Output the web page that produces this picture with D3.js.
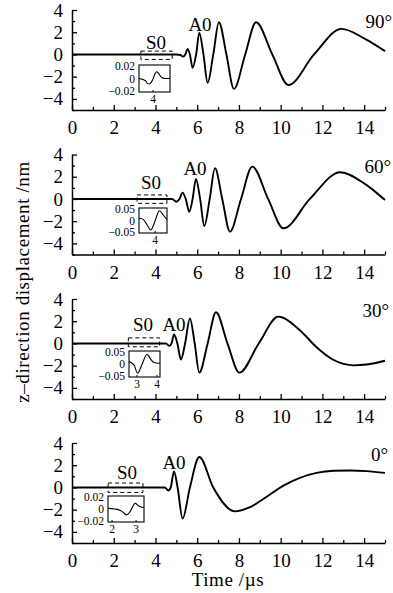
<!DOCTYPE html>
<html>
<head>
<meta charset="utf-8">
<title>z-direction displacement</title>
<script src="https://d3js.org/d3.v7.min.js"></script>
<style>
  body { margin: 0; background: #fff; }
  svg { display: block; }
  svg text { font-family: "Liberation Serif", "DejaVu Serif", "Times New Roman", Times, serif; fill: #000; }
  .axis path, .axis line { stroke: #000; }
</style>
</head>
<body>
<svg id="chart" width="393" height="593"></svg>
<script>
// ---- data ----
const xMajorTicks = [0, 2, 4, 6, 8, 10, 12, 14];
const xMinorTicks = [1, 3, 5, 7, 9, 11, 13, 15];
const yMajorTicks = [-4, -2, 0, 2, 4];
const yMinorTicks = [-5, -3, -1, 1, 3];
const angles = ["90°", "60°", "30°", "0°"];

// main traces, time in µs, displacement in nm
const t90 = [0, 5.0, 5.2, 5.32, 5.43, 5.54, 5.65, 5.78, 5.95, 6.1, 6.3, 6.5, 6.77, 7.04, 7.4, 7.76, 8.3, 8.82, 9.6, 10.37, 11.6, 12.92, 14.0, 15];
const z90 = [0, 0, -0.05, -0.2, 0, 0.5, 0, -1.2, 0, 1.95, 0, -2.55, 0, 2.9, 0, -3.1, 0, 2.9, 0, -2.75, 0, 2.3, 1.45, 0.3];

const t60 = [0, 4.8, 5.0, 5.15, 5.3, 5.45, 5.62, 5.78, 5.94, 6.14, 6.34, 6.6, 6.85, 7.2, 7.57, 8.1, 8.64, 9.4, 10.13, 11.4, 12.85, 14.0, 15];
const z60 = [0, 0, -0.25, 0, 0.57, 0, -1.15, 0, 1.8, 0, -2.43, 0, 2.77, 0, -2.94, 0, 2.91, 0, -2.64, 0, 2.4, 1.4, -0.1];

const t30 = [0, 4.5, 4.66, 4.77, 4.89, 5.05, 5.22, 5.42, 5.65, 5.88, 6.1, 6.5, 6.9, 7.45, 8.02, 8.95, 9.89, 10.92, 11.72, 12.52, 13.5, 14.12, 15];
const z30 = [0, 0, -0.22, 0, 0.8, 0, -1.45, 0, 2.26, 0, -2.63, 0, 2.81, 0, -2.63, 0, 2.41, 1.19, -0.34, -1.47, -1.97, -1.9, -1.56];

const t0 = [0, 4.45, 4.62, 4.73, 4.89, 5.06, 5.3, 5.65, 6.1, 6.77, 7.81, 8.53, 9.33, 10.13, 10.92, 11.72, 12.52, 13.32, 14.12, 15];
const z0 = [0, 0, -0.28, 0, 1.43, 0, -2.8, 0, 2.74, 0, -2.15, -1.78, -0.84, 0.16, 0.87, 1.31, 1.5, 1.53, 1.47, 1.31];

// S0 insets (zoomed)
const inT90 = [3.33, 3.45, 3.55, 3.65, 3.73, 3.82, 3.92, 4.02, 4.1, 4.17, 4.25, 4.35, 4.45, 4.6, 4.81];
const inZ90 = [0, -0.001, -0.002, -0.004, -0.008, -0.009, -0.006, 0.001, 0.008, 0.011, 0.009, 0.004, 0.001, 0, 0];
const inT60 = [3.23, 3.3, 3.43, 3.62, 3.79, 3.96, 4.08, 4.2, 4.3, 4.39, 4.57];
const inZ60 = [0.01, 0.009, 0.005, -0.02, -0.042, -0.012, 0.02, 0.043, 0.036, 0.024, 0.005];
const inT30 = [2.6, 2.85, 3.03, 3.24, 3.5, 3.69, 3.85, 4.07, 4.15];
const inZ30 = [0.01, -0.004, -0.039, -0.004, 0.041, 0.02, 0.006, 0.003, 0.003];
const inT0 = [1.83, 2.1, 2.33, 2.47, 2.61, 2.75, 2.96, 3.1, 3.24, 3.33];
const inZ0 = [0.001, 0, -0.002, -0.006, -0.01, -0.0045, 0.0096, 0.0056, 0.003, 0.003];

const inXTicks = [[4], [4], [3, 4], [2, 3]];
const inYTicks = [[-0.02, 0, 0.02], [-0.05, 0, 0.05], [-0.05, 0, 0.05], [-0.02, 0, 0.02]];
const inXDomain = [[3.33, 4.81], [3.23, 4.57], [2.6, 4.15], [1.83, 3.33]];
const inYDomain = [[-0.022, 0.022], [-0.055, 0.055], [-0.055, 0.055], [-0.022, 0.022]];
// S0 dashed window (µs, nm)
const s0Window = [[3.3, 4.8, -0.45, 0.3], [3.12, 4.55, -0.4, 0.36], [2.7, 4.2, -0.3, 0.5], [1.73, 3.4, -0.45, 0.4]];

const traces = [[t90, z90], [t60, z60], [t30, z30], [t0, z0]];
const insets = [[inT90, inZ90], [inT60, inZ60], [inT30, inZ30], [inT0, inZ0]];

// ---- layout ----
const panelTop = [10, 154.5, 299, 443];
const panelH = 100;
const insetBox = [[139, 65, 170, 92], [139, 208, 167, 233], [129, 351, 160, 377], [108, 496, 144, 522]];
const s0Pos = [[156, 49], [151, 189], [143, 331], [127, 479]];
const a0Pos = [[200, 31], [195, 175], [174, 331], [174, 469]];
const angPos = [[392, 28], [391, 173], [389, 317], [388, 461]];

const svg = d3.select("#chart");
const x = d3.scaleLinear().domain([0, 15]).range([72, 385]);
const fmt = d => (d < 0 ? "\u2212" : "") + Math.abs(d);

traces.forEach(([ts, zs], i) => {
  const top = panelTop[i];
  const y = d3.scaleLinear().domain([-5, 4]).range([top + panelH, top]);
  const g = svg.append("g");

  // x axis, ticks pointing in
  const gx = g.append("g").attr("class", "axis").attr("transform", `translate(0,${top + panelH})`);
  gx.call(d3.axisBottom(x).tickValues(xMajorTicks).tickSizeInner(-5).tickSizeOuter(0).tickPadding(11).tickFormat(fmt));
  gx.append("g").call(d3.axisBottom(x).tickValues(xMinorTicks).tickSizeInner(-3).tickSizeOuter(0).tickFormat(""))
    .select(".domain").remove();

  const gy = g.append("g").attr("class", "axis").attr("transform", "translate(72,0)");
  gy.call(d3.axisLeft(y).tickValues(yMajorTicks).tickSizeInner(-5).tickSizeOuter(0).tickPadding(9).tickFormat(fmt));
  gy.append("g").call(d3.axisLeft(y).tickValues(yMinorTicks).tickSizeInner(-3).tickSizeOuter(0).tickFormat(""))
    .select(".domain").remove();

  g.selectAll(".axis, .axis g").attr("font-family", null).attr("font-size", null);
  g.selectAll(".axis text").attr("font-size", 19);
  g.selectAll(".domain").attr("stroke-width", 1.5);
  g.selectAll(".tick line").attr("stroke-width", 1.3);

  // main trace
  const pts = ts.map((t, k) => [t, zs[k]]);
  g.append("path")
    .datum(pts)
    .attr("fill", "none")
    .attr("stroke", "#000")
    .attr("stroke-width", 1.9)
    .attr("d", d3.line().x(d => x(d[0])).y(d => y(d[1])).curve(d3.curveMonotoneX));

  // dashed S0 window
  const w = s0Window[i];
  g.append("rect")
    .attr("x", x(w[0])).attr("y", y(w[3]))
    .attr("width", x(w[1]) - x(w[0])).attr("height", y(w[2]) - y(w[3]))
    .attr("fill", "none").attr("stroke", "#000").attr("stroke-width", 1)
    .attr("stroke-dasharray", "4,3");

  // labels
  g.append("text").attr("x", s0Pos[i][0]).attr("y", s0Pos[i][1]).attr("text-anchor", "middle")
    .attr("font-size", 19).text("S0");
  g.append("text").attr("x", a0Pos[i][0]).attr("y", a0Pos[i][1]).attr("text-anchor", "middle")
    .attr("font-size", 19).text("A0");
  g.append("text").attr("x", angPos[i][0]).attr("y", angPos[i][1]).attr("text-anchor", "end")
    .attr("font-size", 19).text(angles[i]);

  // inset
  const [bx0, by0, bx1, by1] = insetBox[i];
  const xi = d3.scaleLinear().domain(inXDomain[i]).range([bx0, bx1]);
  const yi = d3.scaleLinear().domain(inYDomain[i]).range([by1, by0]);
  const gi = g.append("g");
  gi.append("rect").attr("x", bx0).attr("y", by0).attr("width", bx1 - bx0).attr("height", by1 - by0)
    .attr("fill", "#fff").attr("stroke", "#000").attr("stroke-width", 1.1);
  const [it, iz] = insets[i];
  gi.append("path")
    .datum(it.map((t, k) => [t, iz[k]]))
    .attr("fill", "none").attr("stroke", "#000").attr("stroke-width", 1.1)
    .attr("d", d3.line().x(d => xi(d[0])).y(d => yi(d[1])).curve(d3.curveMonotoneX));
  inXTicks[i].forEach(v => {
    gi.append("line").attr("x1", xi(v)).attr("x2", xi(v)).attr("y1", by1).attr("y2", by1 - 2)
      .attr("stroke", "#000").attr("stroke-width", 1);
    gi.append("text").attr("x", xi(v)).attr("y", by1 + 11).attr("text-anchor", "middle")
      .attr("font-size", 11.5).text(fmt(v));
  });
  inYTicks[i].forEach(v => {
    gi.append("text").attr("x", bx0 - 4).attr("y", yi(v)).attr("dy", "0.35em").attr("text-anchor", "end")
      .attr("font-size", 11.5).text(fmt(v));
  });
});

// axis titles
svg.append("text")
  .attr("transform", "translate(29,282) rotate(-90)")
  .attr("text-anchor", "middle")
  .attr("font-size", 19)
  .attr("letter-spacing", 0.6)
  .text("z\u2013direction displacement /nm");

svg.append("text")
  .attr("x", 228).attr("y", 586)
  .attr("text-anchor", "middle")
  .attr("font-size", 19)
  .attr("letter-spacing", 0.6)
  .text("Time /\u00b5s");
</script>
</body>
</html>
